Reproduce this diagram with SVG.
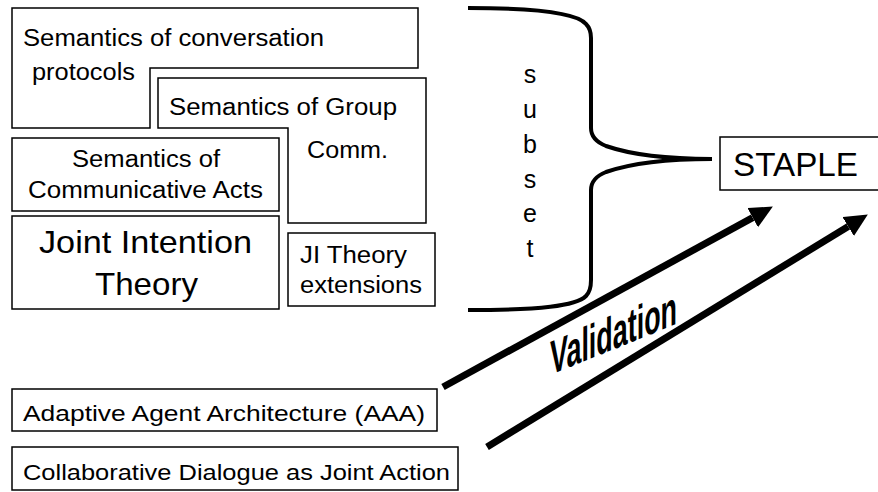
<svg xmlns="http://www.w3.org/2000/svg" width="878" height="492" viewBox="0 0 878 492">
<defs>
<style>
.box{fill:#fff;stroke:#000;stroke-width:1.5}
.t{font-family:"Liberation Sans",Arial,sans-serif;fill:#000}
.conn{fill:none;stroke:#000}
</style>
<marker id="ah" markerUnits="userSpaceOnUse" markerWidth="24" markerHeight="24" refX="0" refY="11" orient="auto">
<path d="M0,0 L23,11 L0,22 z" fill="#000"/>
</marker>
</defs>
<rect width="878" height="492" fill="#fff"/>

<g id="conv-protocols">
<polygon class="box" points="12,8 418,8 418,68 150,68 150,128 12,128"/>
<text class="t" x="23" y="46" font-size="23" textLength="301" lengthAdjust="spacingAndGlyphs">Semantics of conversation</text>
<text class="t" x="32" y="80" font-size="23" textLength="103" lengthAdjust="spacingAndGlyphs">protocols</text>
</g>

<g id="group-comm">
<polygon class="box" points="158,78 426,78 426,223 288,223 288,128 158,128"/>
<text class="t" x="169" y="115" font-size="23" textLength="228" lengthAdjust="spacingAndGlyphs">Semantics of Group</text>
<text class="t" x="307" y="158" font-size="23" textLength="81" lengthAdjust="spacingAndGlyphs">Comm.</text>
</g>

<g id="comm-acts">
<rect class="box" x="12" y="138" width="267" height="73"/>
<text class="t" x="72" y="167" font-size="23" textLength="148" lengthAdjust="spacingAndGlyphs">Semantics of</text>
<text class="t" x="28" y="198" font-size="23" textLength="235" lengthAdjust="spacingAndGlyphs">Communicative Acts</text>
</g>

<g id="joint-intention">
<rect class="box" x="12" y="216" width="267" height="93"/>
<text class="t" x="39" y="253" font-size="32" textLength="213" lengthAdjust="spacingAndGlyphs">Joint Intention</text>
<text class="t" x="95" y="295" font-size="32" textLength="103" lengthAdjust="spacingAndGlyphs">Theory</text>
</g>

<g id="ji-extensions">
<rect class="box" x="288" y="233" width="147" height="73"/>
<text class="t" x="300" y="263" font-size="23" textLength="107" lengthAdjust="spacingAndGlyphs">JI Theory</text>
<text class="t" x="300" y="293" font-size="23" textLength="122" lengthAdjust="spacingAndGlyphs">extensions</text>
</g>

<g id="staple">
<rect class="box" x="720" y="137" width="170" height="53"/>
<text class="t" x="733" y="176" font-size="33" textLength="125" lengthAdjust="spacingAndGlyphs">STAPLE</text>
</g>

<g id="aaa">
<rect class="box" x="12" y="389" width="425" height="42"/>
<text class="t" x="23" y="421" font-size="22" textLength="402" lengthAdjust="spacingAndGlyphs">Adaptive Agent Architecture (AAA)</text>
</g>

<g id="collab-dialogue">
<rect class="box" x="12" y="447" width="446" height="43"/>
<text class="t" x="23" y="480" font-size="22" textLength="427" lengthAdjust="spacingAndGlyphs">Collaborative Dialogue as Joint Action</text>
</g>

<g id="connectors">
<path class="conn" stroke-width="4" d="M468,8 C540,8 578,14 586,24 Q591,29 591,38 L591,128 Q591,140 606,146 C632,155 672,159 712,159 C672,159 632,163 606,172 Q591,178 591,190 L591,280 Q591,291 586,296 C576,306 540,310 468,310"/>
<g class="t" font-size="25" text-anchor="middle">
<text x="530" y="83">s</text>
<text x="530" y="118">u</text>
<text x="530" y="153">b</text>
<text x="530" y="188">s</text>
<text x="530" y="222">e</text>
<text x="530" y="257">t</text>
</g>
<line class="conn" stroke-width="7" x1="443" y1="387" x2="752.7" y2="217.6" marker-end="url(#ah)"/>
<line class="conn" stroke-width="7" x1="487" y1="447" x2="848.2" y2="226.5" marker-end="url(#ah)"/>
<text class="t" transform="translate(550,375) skewY(-22)" font-size="48" font-weight="bold" textLength="127" lengthAdjust="spacingAndGlyphs">Validation</text>
</g>
</svg>
